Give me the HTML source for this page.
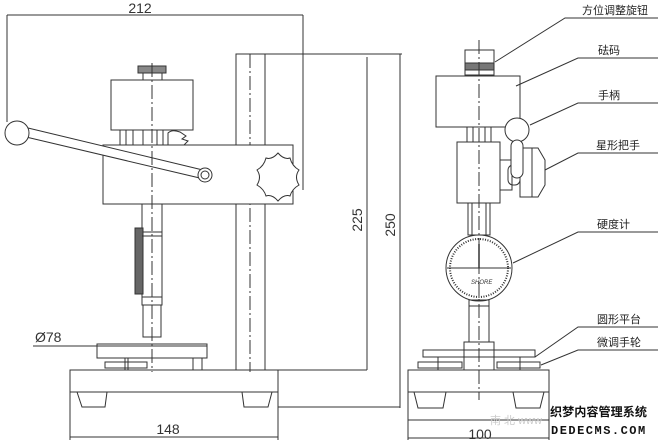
<!DOCTYPE html>
<html><head><meta charset="utf-8"><style>
html,body{margin:0;padding:0;background:#fff;}
svg{display:block;}
text{font-family:"Liberation Sans","Noto Sans CJK SC",sans-serif;}
</style></head><body>
<svg width="658" height="442" viewBox="0 0 658 442" xmlns="http://www.w3.org/2000/svg">
<g fill="none" stroke="#333" stroke-width="1">
<line x1="7" y1="15" x2="303" y2="15"/>
<line x1="7" y1="15" x2="7" y2="122"/>
<line x1="303" y1="15" x2="303" y2="190"/>
<rect x="236" y="54" width="29" height="316"/>
<line x1="250" y1="54" x2="250" y2="372" stroke-dasharray="14,3,2,3"/>
<line x1="265" y1="54" x2="402" y2="54"/>
<line x1="367" y1="57" x2="367" y2="370"/>
<line x1="400" y1="54" x2="400" y2="408"/>
<line x1="278" y1="370" x2="367" y2="370"/>
<line x1="278" y1="407" x2="400" y2="407"/>
<rect x="138" y="66" width="28" height="7" fill="#888"/>
<rect x="143" y="73" width="19" height="7"/>
<rect x="111" y="80" width="82" height="50" fill="#fff"/>
<line x1="120" y1="130" x2="120" y2="145"/><line x1="126" y1="130" x2="126" y2="145"/>
<line x1="133" y1="130" x2="133" y2="145"/><line x1="143" y1="130" x2="143" y2="145"/>
<line x1="157" y1="130" x2="157" y2="145"/><line x1="163" y1="130" x2="163" y2="145"/>
<path d="M168 145 V133 Q172 129 180 132 L186 136 L182 139 L188 141 L184 145"/>
<rect x="103" y="145" width="190" height="59" fill="#fff"/>
<path d="M278 153 Q284 160 290 158 Q292 166 299 170 Q294 177 299 185 Q292 189 290 196 Q284 194 278 201 Q272 194 266 196 Q264 189 257 185 Q262 177 257 170 Q264 166 266 158 Q272 160 278 153 Z" fill="#fff"/>
<polygon points="28,128 207,171 204,179 26,137" fill="#fff"/>
<circle cx="17" cy="133" r="12" fill="#fff"/>
<circle cx="205" cy="175" r="7" fill="#fff"/>
<circle cx="205" cy="175" r="4"/>
<rect x="142" y="204" width="20" height="28"/>
<rect x="142" y="232" width="20" height="65"/>
<rect x="135" y="228" width="8" height="66" fill="#666"/>
<line x1="142" y1="236" x2="162" y2="236"/>
<rect x="142" y="297" width="20" height="8"/>
<rect x="143" y="305" width="18" height="32"/>
<line x1="152" y1="63" x2="152" y2="372" stroke-dasharray="14,3,2,3"/>
<line x1="33" y1="346" x2="207" y2="346"/>
<rect x="97" y="344" width="110" height="14"/>
<rect x="105" y="362" width="42" height="6"/>
<line x1="125" y1="358" x2="125" y2="370"/><line x1="128" y1="358" x2="128" y2="370"/>
<rect x="193" y="358" width="9" height="12"/>
<rect x="70" y="370" width="208" height="22"/>
<path d="M77 392 L82 407 H105 L107 392"/>
<path d="M242 392 L244 407 H268 L272 392"/>
<line x1="70" y1="392" x2="70" y2="440"/><line x1="278" y1="392" x2="278" y2="440"/>
<line x1="70" y1="437" x2="278" y2="437"/>

<rect x="465" y="50" width="29" height="25"/>
<rect x="465" y="63" width="29" height="7" fill="#777"/>
<rect x="436" y="76" width="84" height="51" fill="#fff"/>
<rect x="467" y="127" width="24" height="15"/>
<line x1="473" y1="127" x2="473" y2="142"/><line x1="485" y1="127" x2="485" y2="142"/>
<rect x="457" y="142" width="43" height="61" fill="#fff"/>
<rect x="500" y="160" width="12" height="30"/>
<rect x="508" y="165" width="12" height="20" rx="5"/>
<path d="M520 148 H538 L545 160 V185 L538 197 H520 Z" fill="#fff"/>
<line x1="532" y1="148" x2="532" y2="197"/>
<circle cx="517" cy="130" r="12" fill="#fff"/>
<rect x="511" y="140" width="12" height="38" rx="6" fill="#fff"/>
<rect x="468" y="203" width="22" height="32"/>
<line x1="472" y1="203" x2="472" y2="235"/><line x1="486" y1="203" x2="486" y2="235"/>
<circle cx="479" cy="268" r="33" fill="#fff"/>
<circle cx="479" cy="268" r="29" stroke-width="2" stroke-dasharray="1,1.5"/>
<line x1="447" y1="268" x2="511" y2="268"/>
<line x1="479" y1="244" x2="479" y2="268" stroke-width="1.5"/>
<text x="471" y="284" font-size="6" fill="#333" stroke="none" font-style="italic">SHORE</text>
<rect x="469" y="300" width="20" height="42"/>
<line x1="469" y1="306" x2="489" y2="306"/>
<rect x="464" y="342" width="30" height="28"/>
<rect x="423" y="350" width="112" height="7"/>
<rect x="418" y="362" width="44" height="6"/>
<rect x="497" y="362" width="43" height="6"/>
<line x1="438" y1="357" x2="438" y2="370"/><line x1="520" y1="357" x2="520" y2="370"/>
<line x1="479" y1="40" x2="479" y2="400" stroke-dasharray="14,3,2,3"/>
<rect x="408" y="370" width="141" height="50"/>
<path d="M414 392 L418 408 H443 L446 392 Z"/>
<path d="M513 392 L516 408 H540 L544 392 Z"/>
<line x1="408" y1="392" x2="549" y2="392"/>
<line x1="408" y1="420" x2="408" y2="440"/><line x1="549" y1="420" x2="549" y2="440"/>
<line x1="408" y1="438" x2="549" y2="438"/>

<polyline points="495,62 565,18 658,18"/>
<polyline points="516,86 578,58 658,58"/>
<polyline points="530,125 578,103 658,103"/>
<polyline points="545,170 578,153 658,153"/>
<polyline points="513,263 578,232 658,232"/>
<polyline points="535,357 578,327 658,327"/>
<polyline points="541,365 578,350 658,350"/>
</g>
<g fill="#333" font-size="14">
<text x="140" y="13" text-anchor="middle">212</text>
<text x="168" y="434" text-anchor="middle">148</text>
<text x="480" y="439" text-anchor="middle">100</text>
<text x="35" y="342">Ø78</text>
<text transform="translate(362,220) rotate(-90)" text-anchor="middle">225</text>
<text transform="translate(395,225) rotate(-90)" text-anchor="middle">250</text>
</g>
<g fill="#222" font-size="11" text-anchor="end">
<text x="648" y="14">方位调整旋钮</text>
<text x="620" y="54">砝码</text>
<text x="620" y="99">手柄</text>
<text x="640" y="149">星形把手</text>
<text x="630" y="228">硬度计</text>
<text x="641" y="323">圆形平台</text>
<text x="641" y="346">微调手轮</text>
</g>
<text x="490" y="424" font-size="11" fill="#ccc">南 北 www</text>
<text x="550" y="416" font-size="12" font-weight="bold" fill="#111" style="font-family:'Noto Sans CJK SC',sans-serif" textLength="97" lengthAdjust="spacingAndGlyphs">织梦内容管理系统</text>
<text x="551" y="434" font-size="12" font-weight="bold" fill="#111" style="font-family:'Liberation Mono',monospace" letter-spacing="1.5">DEDECMS.COM</text>
</svg>
</body></html>
